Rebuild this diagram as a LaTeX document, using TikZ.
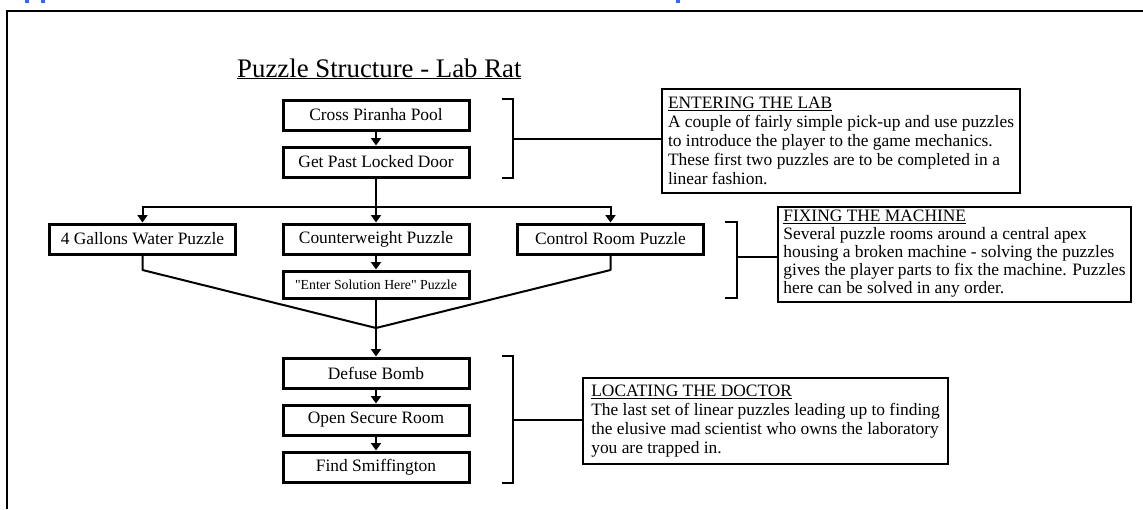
\documentclass[tikz,border=0pt]{standalone}
\usepackage{fontspec}
\setmainfont{Liberation Serif}
\usetikzlibrary{arrows.meta}
\definecolor{headblue}{RGB}{51,102,255}
\begin{document}
\begin{tikzpicture}[x=1pt,y=-1pt,
  stepbox/.style={draw,line width=3pt,minimum width=186pt,minimum height=30pt,
    inner sep=0pt,font=\fontsize{17.4}{19}\selectfont},
  smallbox/.style={stepbox,minimum height=27pt,font=\fontsize{13.8}{15}\selectfont},
  notebox/.style={draw,line width=2pt,align=left,inner sep=0pt,
    font=\fontsize{17.4}{19}\selectfont},
  link/.style={line width=2pt},
  flow/.style={link,-{Triangle[length=7.5pt,width=10pt]}},
  brace/.style={line width=2pt}]
\useasboundingbox (0,0) rectangle (1143,509);

% remnants of the heading above the frame
\fill[headblue] (25,0) rectangle (29,3);
\fill[headblue] (41,0) rectangle (45,3);
\fill[headblue] (676,0) rectangle (680,3);

% frame
\draw[line width=2.2pt] (1143,11) -- (7,11) -- (7,509);

% title
\node[anchor=base west,font=\fontsize{26.8}{30}\selectfont,inner sep=0pt] (title)
  at (237,77) {\underline{Puzzle Structure - Lab Rat}};

% puzzle steps
\node[stepbox] (cross)   at (376,115) {Cross Piranha Pool};
\node[stepbox] (locked)  at (376,162) {Get Past Locked Door};
\node[stepbox] (gallons) at (142.5,239) {4 Gallons Water Puzzle};
\node[stepbox] (cw)      at (376,239) {Counterweight Puzzle};
\node[stepbox] (ctrl)    at (610.5,239) {Control Room Puzzle};
\node[smallbox] (enter)  at (376,284.5) {\textquotedbl Enter Solution Here\textquotedbl\ Puzzle};
\node[stepbox] (defuse)  at (376,373) {Defuse Bomb};
\node[stepbox] (secure)  at (376,420) {Open Secure Room};
\node[stepbox] (smiff)   at (376,467) {Find Smiffington};

% connectors
\coordinate (split) at (376,207);
\coordinate (merge) at (376,328);
\coordinate (gbend) at (142.5,270);
\coordinate (cbend) at (610.5,270);

\draw[flow] (cross) -- (locked);
\draw[link] (locked) -- (split);
\draw[flow] (split) -- (cw);
\draw[flow] (split) -| (gallons);
\draw[flow] (split) -| (ctrl);
\draw[flow] (cw) -- (enter);
\draw[link,line join=round] (gallons) -- (gbend) -- (merge);
\draw[link,line join=round] (ctrl) -- (cbend) -- (merge);
\draw[link] (enter) -- (merge);
\draw[flow] (merge) -- (defuse);
\draw[flow] (defuse) -- (secure);
\draw[flow] (secure) -- (smiff);

% notes
\node[notebox,minimum width=358pt,minimum height=104pt] (entering) at (841,141)
  {\underline{ENTERING THE LAB}\\
   A couple of fairly simple pick-up and use puzzles\\
   to introduce the player to the game mechanics.\\
   These first two puzzles are to be completed in a\\
   linear fashion.};
\node[notebox,minimum width=353pt,minimum height=95pt,
      font=\fontsize{17.4}{18}\selectfont] (fixing) at (954.5,254)
  {\underline{FIXING THE MACHINE}\\
   Several puzzle rooms around a central apex\\
   housing a broken machine - solving the puzzles\\
   gives the player parts to fix the machine. Puzzles\\
   here can be solved in any order.};
\node[notebox,minimum width=365pt,minimum height=86pt] (locating) at (765.5,421)
  {\underline{LOCATING THE DOCTOR}\\
   The last set of linear puzzles leading up to finding\\
   the elusive mad scientist who owns the laboratory\\
   you are trapped in.};

% brackets tying each group to its note
\coordinate (b1) at (513,138.5);
\coordinate (b2) at (737,257);
\coordinate (b3) at (513,419.5);
\draw[brace] (502,99) -- (513,99) -- (513,178) -- (502,178);
\draw[brace] (725,222) -- (737,222) -- (737,298) -- (725,298);
\draw[brace] (502,356) -- (513,356) -- (513,483) -- (502,483);
\draw[link] (b1) -- (b1 -| entering.west);
\draw[link] (b2) -- (b2 -| fixing.west);
\draw[link] (b3) -- (b3 -| locating.west);
\end{tikzpicture}
\end{document}
